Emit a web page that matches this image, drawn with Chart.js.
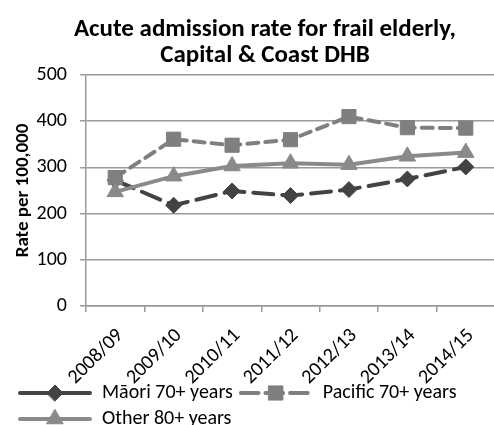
<!DOCTYPE html>
<html>
<head>
<meta charset="utf-8">
<script src="https://cdn.jsdelivr.net/npm/chart.js@4.4.1/dist/chart.umd.min.js"></script>
<style>
  html, body { margin: 0; padding: 0; background: #fff; overflow: hidden; width: 494px; height: 425px; }
  #wrap { position: relative; width: 506px; height: 425px; }
  canvas { display: block; }
</style>
</head>
<body>
<div id="wrap"><canvas id="c" width="506" height="425"></canvas></div>
<script>
// ---- data ----
const titleLines = ['Acute admission rate for frail elderly,', 'Capital & Coast DHB'];
const yAxisTitle = 'Rate per 100,000';
const categories = ['2008/09', '2009/10', '2010/11', '2011/12', '2012/13', '2013/14', '2014/15'];
const seriesNames = ['Māori 70+ years', 'Pacific 70+ years', 'Other 80+ years'];
const maoriValues   = [272, 218, 249, 239, 252, 275, 301];
const pacificValues = [278, 361, 348, 360, 410, 386, 385];
const otherValues   = [247, 281, 303, 309, 306, 324, 332];
const yTicks = [0, 100, 200, 300, 400, 500];

const FONT = 'Carlito, Lato, sans-serif';

const datasets = [
  { label: seriesNames[0], data: maoriValues, borderColor: '#434343', backgroundColor: '#434343',
    borderDash: [20, 9], pointStyle: 'rectRot', pointRadius: 8, order: 3 },
  { label: seriesNames[1], data: pacificValues, borderColor: '#7f7f7f', backgroundColor: '#7f7f7f',
    borderDash: [11, 7], pointStyle: 'rect', pointRadius: 10, order: 2 },
  { label: seriesNames[2], data: otherValues, borderColor: '#8a8a8a', backgroundColor: '#8a8a8a',
    borderDash: [], pointStyle: 'triangle', pointRadius: 9.5, order: 1 }
].map(d => Object.assign({
  borderWidth: 4, pointBorderWidth: 1, pointBorderColor: d.borderColor,
  pointHoverRadius: d.pointRadius, tension: 0, fill: false, borderCapStyle: 'round'
}, d));

const LEGEND_BOX = 74;
const LEGEND_LIFT = 19;

// draw line+marker symbols into the legend boxes
const legendSymbols = {
  id: 'legendSymbols',
  afterDraw(chart) {
    const lg = chart.legend;
    if (!lg || !lg.legendHitBoxes) return;
    const ctx = chart.ctx;
    lg.legendItems.forEach((item, i) => {
      const hb = lg.legendHitBoxes[i];
      const ds = chart.data.datasets[item.datasetIndex];
      const x0 = hb.left, x1 = hb.left + LEGEND_BOX;
      const cy = hb.top + hb.height / 2;
      ctx.save();
      ctx.strokeStyle = ds.borderColor;
      ctx.lineWidth = ds.borderWidth;
      ctx.lineCap = 'round';
      ctx.setLineDash(ds.borderDash && ds.borderDash.length ? [ds.borderDash[0] * 1.6, ds.borderDash[1]] : []);
      ctx.beginPath();
      ctx.moveTo(x0 + 2, cy);
      ctx.lineTo(x1 - 2, cy);
      ctx.stroke();
      ctx.setLineDash([]);
      ctx.fillStyle = ds.backgroundColor;
      ctx.strokeStyle = ds.borderColor;
      ctx.lineWidth = 1;
      Chart.helpers.drawPoint(ctx, { pointStyle: ds.pointStyle, radius: ds.pointRadius, rotation: 0, borderWidth: 1 }, (x0 + x1) / 2, cy);
      ctx.restore();
    });
  }
};

// shift the centred title and tuck the legend up beside the slanted labels, as in the original
const layoutTweaks = {
  id: 'layoutTweaks',
  afterLayout(chart) {
    if (chart.titleBlock) { chart.titleBlock.left += 6; chart.titleBlock.right += 6; }
    if (chart.legend) { chart.legend.top -= LEGEND_LIFT; chart.legend.bottom -= LEGEND_LIFT; }
  }
};

new Chart(document.getElementById('c'), {
  type: 'line',
  data: { labels: categories, datasets },
  plugins: [legendSymbols, layoutTweaks],
  options: {
    responsive: false,
    animation: false,
    layout: { padding: { top: 0, left: 12, right: 0, bottom: -33 } },
    plugins: {
      tooltip: { enabled: false },
      title: {
        display: true, text: titleLines, color: '#000',
        font: { family: FONT, size: 25, weight: 'bold', lineHeight: 1.04 },
        padding: { top: 17, bottom: 6 }
      },
      legend: {
        position: 'bottom', align: 'start',
        labels: {
          boxWidth: LEGEND_BOX, boxHeight: 20, padding: 6, color: '#000',
          font: { family: FONT, size: 20 },
          generateLabels(chart) {
            return chart.data.datasets.map((ds, i) => ({
              text: ds.label, datasetIndex: i, fillStyle: 'rgba(0,0,0,0)',
              strokeStyle: 'rgba(0,0,0,0)', lineWidth: 0, hidden: false
            }));
          }
        }
      }
    },
    scales: {
      x: {
        type: 'category', offset: true,
        grid: { display: true, offset: true, drawOnChartArea: false, drawTicks: true, tickLength: 6, color: '#9a9a9a', lineWidth: 1.5 },
        border: { display: true, color: '#9a9a9a', width: 1.5 },
        ticks: { color: '#000', font: { family: FONT, size: 20 }, minRotation: 45, maxRotation: 45, padding: 12, labelOffset: 5, autoSkip: false },
        afterFit(scale) { scale.height = 90; }
      },
      y: {
        min: 0, max: 500,
        afterBuildTicks(scale) { scale.ticks = yTicks.map(v => ({ value: v })); },
        grid: { color: '#9a9a9a', lineWidth: 1.5, drawTicks: true, tickLength: 6 },
        border: { display: true, color: '#9a9a9a', width: 1.5 },
        ticks: { color: '#000', font: { family: FONT, size: 20 }, padding: 13 },
        title: { display: true, text: yAxisTitle, color: '#000', font: { family: FONT, size: 19, weight: 'bold' }, padding: { top: 0, bottom: 2 } },
        afterFit(scale) { scale.width = 74; }
      }
    }
  }
});
</script>
</body>
</html>
